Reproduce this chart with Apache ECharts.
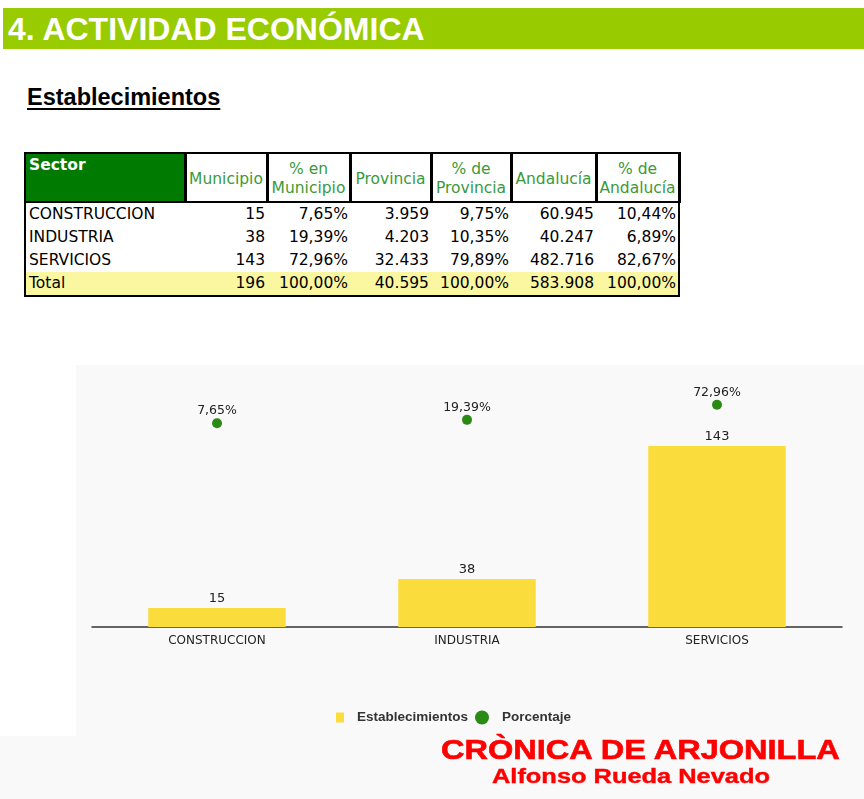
<!DOCTYPE html>
<html>
<head>
<meta charset="utf-8">
<script src="https://cdn.jsdelivr.net/npm/echarts@6/dist/echarts.min.js"></script>
<style>
  html, body { margin:0; padding:0; background:#ffffff; }
  body { width:864px; height:799px; position:relative; overflow:hidden; }
  .abs { position:absolute; }
  #bar { left:3px; top:8px; width:861px; height:41px; background:#99cc00; }
  #title { left:8px; top:13px; font:bold 32px/32px "Liberation Sans", Arial, sans-serif; color:#ffffff; white-space:nowrap; }
  #sub { left:27px; top:85px; font:bold 23.5px/24px "Liberation Sans", Arial, sans-serif; color:#000; text-decoration:underline; text-decoration-thickness:2px; text-underline-offset:3px; white-space:nowrap; }
  #tbl { left:24px; top:152px; border-collapse:collapse; table-layout:fixed; width:654px; border:2px solid #000; font-family:"DejaVu Sans", Verdana, sans-serif; font-size:15.5px; }
  #tbl th { height:44px; border:2px solid #000; border-left:3px solid #000; border-right:3px solid #000; color:#3a9a3a; font-weight:normal; line-height:19px; text-align:center; vertical-align:middle; padding:3px 0 0 0; background:#fff; white-space:nowrap; overflow:hidden; }
  #tbl th.sector { background:#007a00; color:#fff; font-weight:bold; text-align:left; vertical-align:top; padding:2px 0 0 3px; border-left:2px solid #000; }
  #tbl td { height:23px; padding:0 2px 0 0; text-align:right; color:#000; white-space:nowrap; line-height:23px; }
  #tbl td.first { text-align:left; padding:0 0 0 3px; }
  #tbl tr.total td { background:#fbf7a0; }
  #panel { left:76px; top:365px; width:788px; height:434px; background:#f9f9f9; }
  #strip { left:0px; top:736px; width:76px; height:63px; background:#f9f9f9; }
  #chart { left:76px; top:365px; width:788px; height:371px; }
  #logo1 { left:441px; top:737px; font:bold 27px/27px "Liberation Sans", Arial, sans-serif; color:#ff0000; white-space:nowrap; transform-origin:0 0; transform:scaleX(1.205); -webkit-text-stroke:0.6px #ff0000; }
  #logo2 { left:492px; top:766px; font:bold 20px/20px "Liberation Sans", Arial, sans-serif; color:#ff0000; white-space:nowrap; transform-origin:0 0; transform:scaleX(1.27); -webkit-text-stroke:0.4px #ff0000; }
</style>
</head>
<body>
<div id="bar" class="abs"></div>
<div id="title" class="abs">4. ACTIVIDAD ECONÓMICA</div>
<div id="sub" class="abs">Establecimientos</div>
<table id="tbl" class="abs"></table>
<div id="panel" class="abs"></div>
<div id="strip" class="abs"></div>
<div id="chart" class="abs"></div>
<div id="logo1" class="abs">CRÒNICA DE ARJONILLA</div>
<div id="logo2" class="abs">Alfonso Rueda Nevado</div>
<script>
// ---- Table data ----
const tableHeaders = ['Sector', 'Municipio', '% en\nMunicipio', 'Provincia', '% de\nProvincia', 'Andalucía', '% de\nAndalucía'];
const sectors = ['CONSTRUCCION', 'INDUSTRIA', 'SERVICIOS', 'Total'];
const municipio = ['15', '38', '143', '196'];
const pctMunicipio = ['7,65%', '19,39%', '72,96%', '100,00%'];
const provincia = ['3.959', '4.203', '32.433', '40.595'];
const pctProvincia = ['9,75%', '10,35%', '79,89%', '100,00%'];
const andalucia = ['60.945', '40.247', '482.716', '583.908'];
const pctAndalucia = ['10,44%', '6,89%', '82,67%', '100,00%'];

// ---- Chart data ----
const categories = ['CONSTRUCCION', 'INDUSTRIA', 'SERVICIOS'];
const establecimientos = [15, 38, 143];
const porcentaje = [7.65, 19.39, 72.96];
const legendNames = ['Establecimientos', 'Porcentaje'];

// build table
(function () {
  const colWidths = [160, 82, 83, 81, 80, 85, 83];
  const tbl = document.getElementById('tbl');
  const cg = document.createElement('colgroup');
  colWidths.forEach(w => { const c = document.createElement('col'); c.style.width = w + 'px'; cg.appendChild(c); });
  tbl.appendChild(cg);
  const hr = document.createElement('tr');
  tableHeaders.forEach((h, i) => {
    const th = document.createElement('th');
    if (i === 0) th.className = 'sector';
    th.innerHTML = h.split('\n').join('<br>');
    hr.appendChild(th);
  });
  tbl.appendChild(hr);
  const cols = [sectors, municipio, pctMunicipio, provincia, pctProvincia, andalucia, pctAndalucia];
  sectors.forEach((s, r) => {
    const tr = document.createElement('tr');
    if (r === sectors.length - 1) tr.className = 'total';
    cols.forEach((col, c) => {
      const td = document.createElement('td');
      if (c === 0) td.className = 'first';
      td.textContent = col[r];
      tr.appendChild(td);
    });
    tbl.appendChild(tr);
  });
})();

const chart = echarts.init(document.getElementById('chart'), null, { renderer: 'canvas' });
const fmtPct = v => v.toFixed(2).replace('.', ',') + '%';
const legendText = { fontFamily: 'Liberation Sans', fontWeight: 'bold', fontSize: 13.5, color: '#333', lineHeight: 16, padding: [0, 0, 0, 8] };
chart.setOption({
  backgroundColor: 'transparent',
  animation: false,
  grid: { left: 16, right: 22, top: 9, bottom: 109 },
  legend: [
    { data: [legendNames[0]], left: 260, top: 344.5, padding: 0, itemWidth: 8, itemHeight: 10, icon: 'rect', textStyle: legendText },
    { data: [legendNames[1]], left: 399, top: 344.5, padding: 0, itemWidth: 14, itemHeight: 14, icon: 'circle', textStyle: legendText }
  ],
  xAxis: {
    type: 'category', data: categories,
    axisLine: { lineStyle: { color: '#333', width: 1.5 } },
    axisTick: { show: false },
    axisLabel: { margin: 8, color: '#222', fontSize: 12, fontFamily: 'DejaVu Sans' },
    splitLine: { show: false }
  },
  yAxis: [
    { type: 'value', min: 0, max: 200, show: false },
    { type: 'value', min: -715, max: 182, show: false }
  ],
  series: [
    {
      name: legendNames[0], type: 'bar', data: establecimientos, barWidth: '55%',
      itemStyle: { color: '#fadc3c' },
      label: { show: true, position: 'top', distance: 3, color: '#222', fontSize: 13, fontFamily: 'DejaVu Sans' }
    },
    {
      name: legendNames[1], type: 'scatter', yAxisIndex: 1, data: porcentaje, symbolSize: 10,
      itemStyle: { color: '#2b8a14', opacity: 1 },
      label: { show: true, position: 'top', distance: 1, color: '#222', fontSize: 12.5, fontFamily: 'DejaVu Sans',
        formatter: p => fmtPct(p.value) }
    }
  ]
});
</script>
</body>
</html>
